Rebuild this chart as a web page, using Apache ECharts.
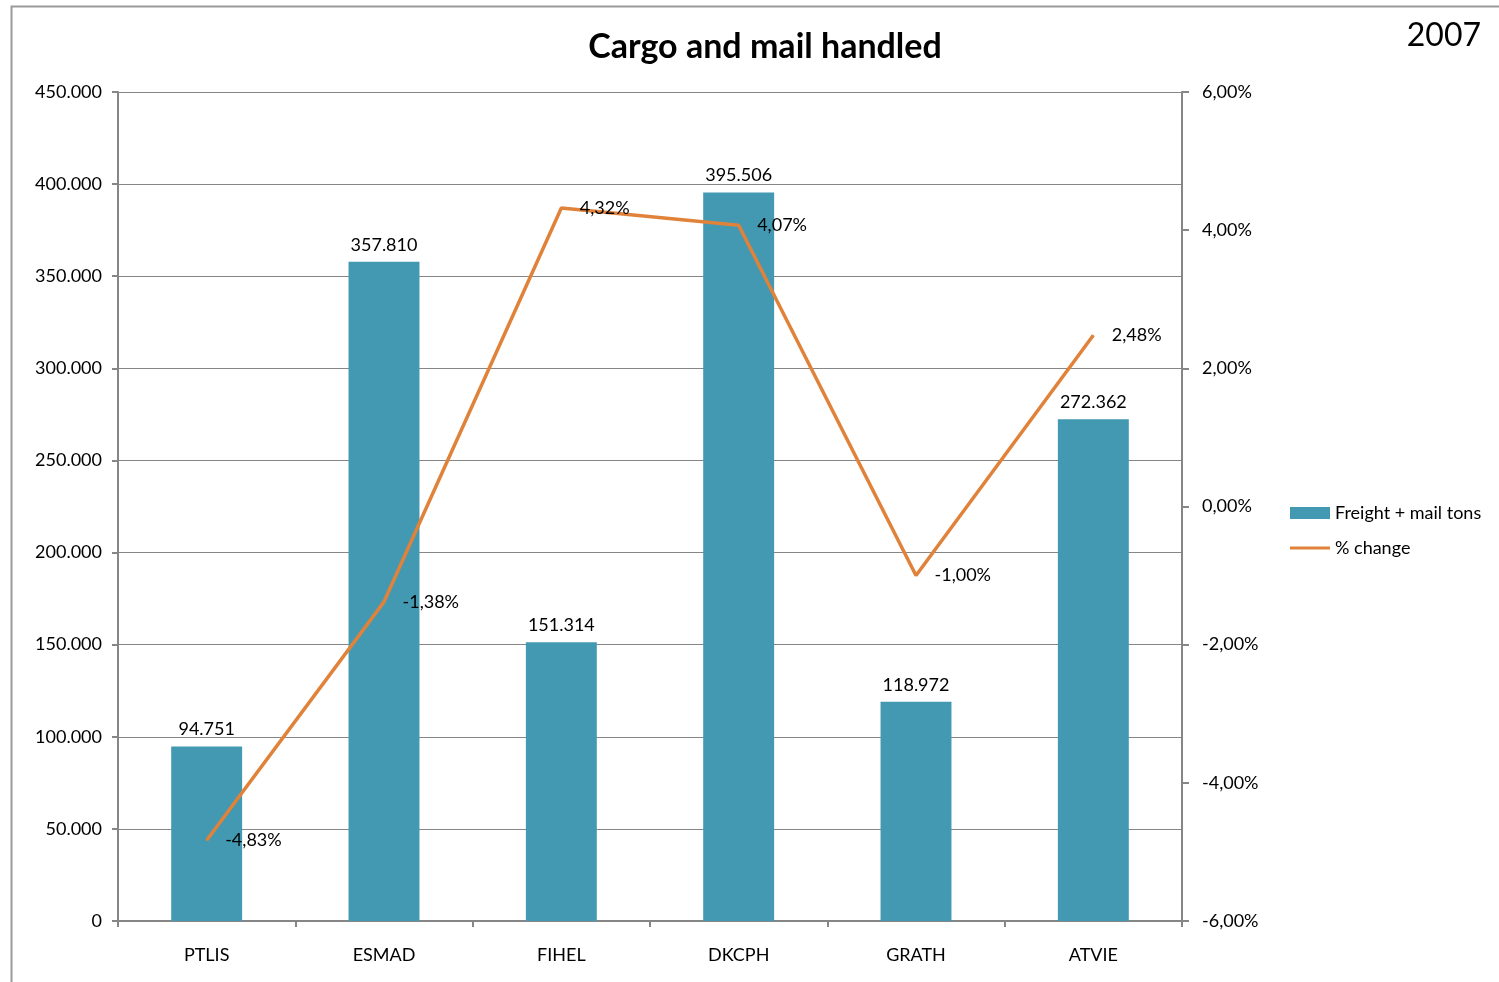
<!DOCTYPE html>
<html>
<head>
<meta charset="utf-8">
<title>Cargo and mail handled</title>
<script src="https://cdn.jsdelivr.net/npm/echarts@6/dist/echarts.min.js"></script>
<style>
  html, body { margin: 0; padding: 0; background: #ffffff; }
  #chart { width: 1499px; height: 982px; }
</style>
</head>
<body>
<div id="chart"></div>
<script>
// Airports
const categories = ['PTLIS', 'ESMAD', 'FIHEL', 'DKCPH', 'GRATH', 'ATVIE'];
// Freight + mail tons per airport
const tons = [94751, 357810, 151314, 395506, 118972, 272362];
// Year-on-year change, percent
const pctChange = [-4.83, -1.38, 4.32, 4.07, -1.00, 2.48];

const FONT = 'Lato, "Open Sans", sans-serif';
const AXIS_GRAY = '#868686';
const LABEL_SIZE = 18;

function thousands(v) {
  return String(Math.round(v)).replace(/\B(?=(\d{3})+(?!\d))/g, '.');
}
function pct(v) {
  return v.toFixed(2).replace('.', ',') + '%';
}

const chart = echarts.init(document.getElementById('chart'));
chart.setOption({
  animation: false,
  backgroundColor: '#ffffff',
  textStyle: { fontFamily: FONT, color: '#000' },
  title: {
    text: 'Cargo and mail handled',
    left: 760,
    top: 25,
    textAlign: 'center',
    textStyle: { fontFamily: FONT, fontSize: 34, fontWeight: 'bold', color: '#000' }
  },
  graphic: [
    {
      type: 'rect',
      shape: { x: 11.5, y: 6.5, width: 1600, height: 1100 },
      style: { fill: 'none', stroke: '#9a9a9a', lineWidth: 2 },
      silent: true
    },
    {
      type: 'text',
      right: 18,
      top: 20,
      style: { text: '2007', font: '32px ' + FONT, fill: '#000' }
    }
  ],
  legend: {
    orient: 'vertical',
    left: 1285,
    top: 499,
    itemGap: 17,
    itemWidth: 40,
    itemHeight: 12,
    textStyle: { fontFamily: FONT, fontSize: LABEL_SIZE, color: '#000' },
    data: [
      { name: 'Freight + mail tons', icon: 'rect' },
      { name: '% change', icon: 'path://M0,0 L40,0 L40,3 L0,3 Z' }
    ]
  },
  grid: { left: 118, right: 317, top: 92, bottom: 61, containLabel: false },
  xAxis: {
    type: 'category',
    data: categories,
    boundaryGap: true,
    axisLine: { lineStyle: { color: AXIS_GRAY, width: 2 } },
    axisTick: { show: true, length: 6, alignWithLabel: false, lineStyle: { color: AXIS_GRAY, width: 2 } },
    axisLabel: { fontFamily: FONT, fontSize: LABEL_SIZE, color: '#000', margin: 25 }
  },
  yAxis: [
    {
      type: 'value',
      min: 0,
      max: 450000,
      interval: 50000,
      axisLine: { show: true, lineStyle: { color: AXIS_GRAY, width: 2 } },
      axisTick: { show: true, length: 6, lineStyle: { color: AXIS_GRAY, width: 2 } },
      splitLine: { show: true, lineStyle: { color: AXIS_GRAY, width: 1 } },
      axisLabel: { fontFamily: FONT, fontSize: LABEL_SIZE, color: '#000', margin: 16, formatter: thousands }
    },
    {
      type: 'value',
      min: -6,
      max: 6,
      interval: 2,
      position: 'right',
      axisLine: { show: true, lineStyle: { color: AXIS_GRAY, width: 2 } },
      axisTick: { show: true, length: 7, lineStyle: { color: AXIS_GRAY, width: 2 } },
      splitLine: { show: false },
      axisLabel: { fontFamily: FONT, fontSize: LABEL_SIZE, color: '#000', margin: 20, formatter: pct }
    }
  ],
  series: [
    {
      name: 'Freight + mail tons',
      type: 'bar',
      yAxisIndex: 0,
      data: tons,
      barWidth: '40%',
      itemStyle: { color: '#4299B1' },
      label: {
        show: true,
        position: 'top',
        distance: 8,
        fontFamily: FONT,
        fontSize: LABEL_SIZE,
        color: '#000',
        formatter: p => thousands(p.value)
      },
      z: 2
    },
    {
      name: '% change',
      type: 'line',
      yAxisIndex: 1,
      data: pctChange,
      symbol: 'circle',
      symbolSize: 1,
      showSymbol: true,
      itemStyle: { color: '#E0823A' },
      lineStyle: { color: '#E0823A', width: 3.5 },
      label: {
        show: true,
        position: 'right',
        distance: 18,
        fontFamily: FONT,
        fontSize: LABEL_SIZE,
        color: '#000',
        formatter: p => pct(p.value)
      },
      z: 3
    }
  ]
});
</script>
</body>
</html>
